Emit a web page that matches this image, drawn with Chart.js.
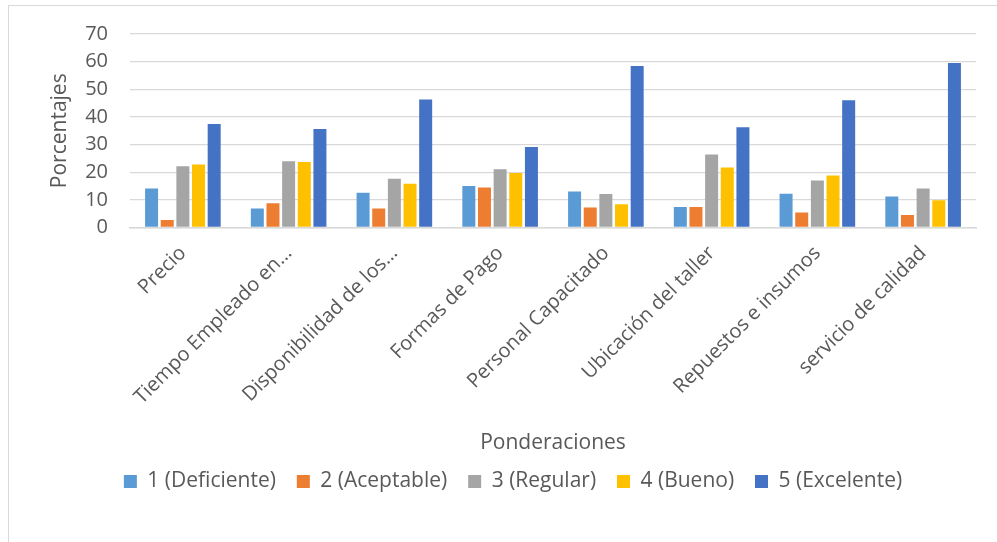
<!DOCTYPE html>
<html lang="es">
<head>
<meta charset="utf-8">
<title>Ponderaciones</title>
<script src="https://cdn.jsdelivr.net/npm/chart.js@4.4.1/dist/chart.umd.min.js"></script>
<style>
    html, body {
        margin: 0;
        padding: 0;
        background: #ffffff;
        overflow: hidden;
    }
    .chart-frame {
        position: absolute;
        left: 8px;
        top: 5px;
        width: 1100px;
        height: 600px;
        border-left: 1px solid #d9d9d9;
        border-top: 1px solid #d9d9d9;
    }
    #ponderaciones-chart {
        position: absolute;
        left: 0;
        top: 0;
    }
</style>
</head>
<body>
<div class="chart-frame">
    <canvas id="ponderaciones-chart" width="1008" height="536"></canvas>
</div>
<script>
(function () {
    "use strict";

    // Categorias y valores (%)
    var categorias = [
        "Precio",
        "Tiempo Empleado en…",
        "Disponibilidad de los…",
        "Formas de Pago",
        "Personal Capacitado",
        "Ubicación del taller",
        "Repuestos e insumos",
        "servicio de calidad"
    ];
    var deficiente = [14.1, 6.9, 12.6, 15.0, 13.0, 7.4, 12.2, 11.2];
    var aceptable  = [2.7, 8.8, 6.9, 14.5, 7.2, 7.4, 5.4, 4.5];
    var regular    = [22.2, 24.0, 17.6, 21.1, 12.1, 26.4, 17.0, 14.1];
    var bueno      = [22.8, 23.7, 15.8, 19.7, 8.4, 21.7, 18.8, 9.9];
    var excelente  = [37.4, 35.6, 46.3, 29.1, 58.4, 36.3, 46.0, 59.5];
    var ticksY = [0, 10, 20, 30, 40, 50, 60, 70];

    var gris = "#595959";
    var linea = "#d9d9d9";

    Chart.defaults.font.family = "'Open Sans', sans-serif";
    Chart.defaults.color = gris;

    var serie = function (label, data, color) {
        return {
            label: label,
            data: data,
            backgroundColor: color,
            borderWidth: 0,
            barPercentage: 0.83,
            categoryPercentage: 0.74
        };
    };

    var ctx = document.getElementById("ponderaciones-chart").getContext("2d");
    var myChart = new Chart(ctx, {
        type: "bar",
        data: {
            labels: categorias,
            datasets: [
                serie("1 (Deficiente)", deficiente, "#5b9bd5"),
                serie("2 (Aceptable)", aceptable, "#ed7d31"),
                serie("3 (Regular)", regular, "#a5a5a5"),
                serie("4 (Bueno)", bueno, "#ffc000"),
                serie("5 (Excelente)", excelente, "#4472c4")
            ]
        },
        options: {
            responsive: false,
            animation: false,
            layout: {
                padding: {top: 28, right: 0, bottom: 40, left: 0}
            },
            plugins: {
                tooltip: {enabled: false},
                legend: {
                    position: "bottom",
                    labels: {
                        boxWidth: 13,
                        boxHeight: 13,
                        padding: 10,
                        color: gris,
                        font: {size: 21},
                        // espacio extra entre elementos de la leyenda
                        generateLabels: function (chart) {
                            var items = Chart.defaults.plugins.legend.labels.generateLabels(chart);
                            items.forEach(function (item, i) {
                                if (i < items.length - 1) {
                                    item.text = item.text + "\u00a0\u00a0";
                                }
                                item.lineWidth = 0;
                            });
                            return items;
                        }
                    }
                }
            },
            scales: {
                x: {
                    grid: {display: false},
                    border: {display: true, color: linea, width: 1.5},
                    ticks: {
                        autoSkip: false,
                        minRotation: 45,
                        maxRotation: 45,
                        padding: 6,
                        color: gris,
                        font: {size: 20}
                    },
                    title: {
                        display: true,
                        text: "Ponderaciones",
                        color: gris,
                        font: {size: 21},
                        padding: {top: 4, bottom: 5}
                    },
                    afterFit: function (scale) {
                        scale.height = 233.5;
                    }
                },
                y: {
                    min: 0,
                    max: 70,
                    afterBuildTicks: function (scale) {
                        scale.ticks = ticksY.map(function (v) { return {value: v}; });
                    },
                    grid: {color: linea, lineWidth: 1.3, drawTicks: false},
                    border: {display: false},
                    ticks: {
                        autoSkip: false,
                        padding: 22,
                        color: gris,
                        font: {size: 20}
                    },
                    title: {
                        display: true,
                        text: "Porcentajes",
                        color: gris,
                        font: {size: 21},
                        padding: {top: 38, bottom: 0}
                    },
                    afterFit: function (scale) {
                        scale.width = 121;
                        scale.paddingTop = 12;
                        scale.paddingBottom = 12;
                    }
                },
                derecha: {
                    position: "right",
                    display: true,
                    grid: {display: false},
                    border: {display: false},
                    ticks: {display: false},
                    afterFit: function (scale) {
                        scale.width = 41;
                    }
                }
            }
        }
    });
})();
</script>
</body>
</html>
